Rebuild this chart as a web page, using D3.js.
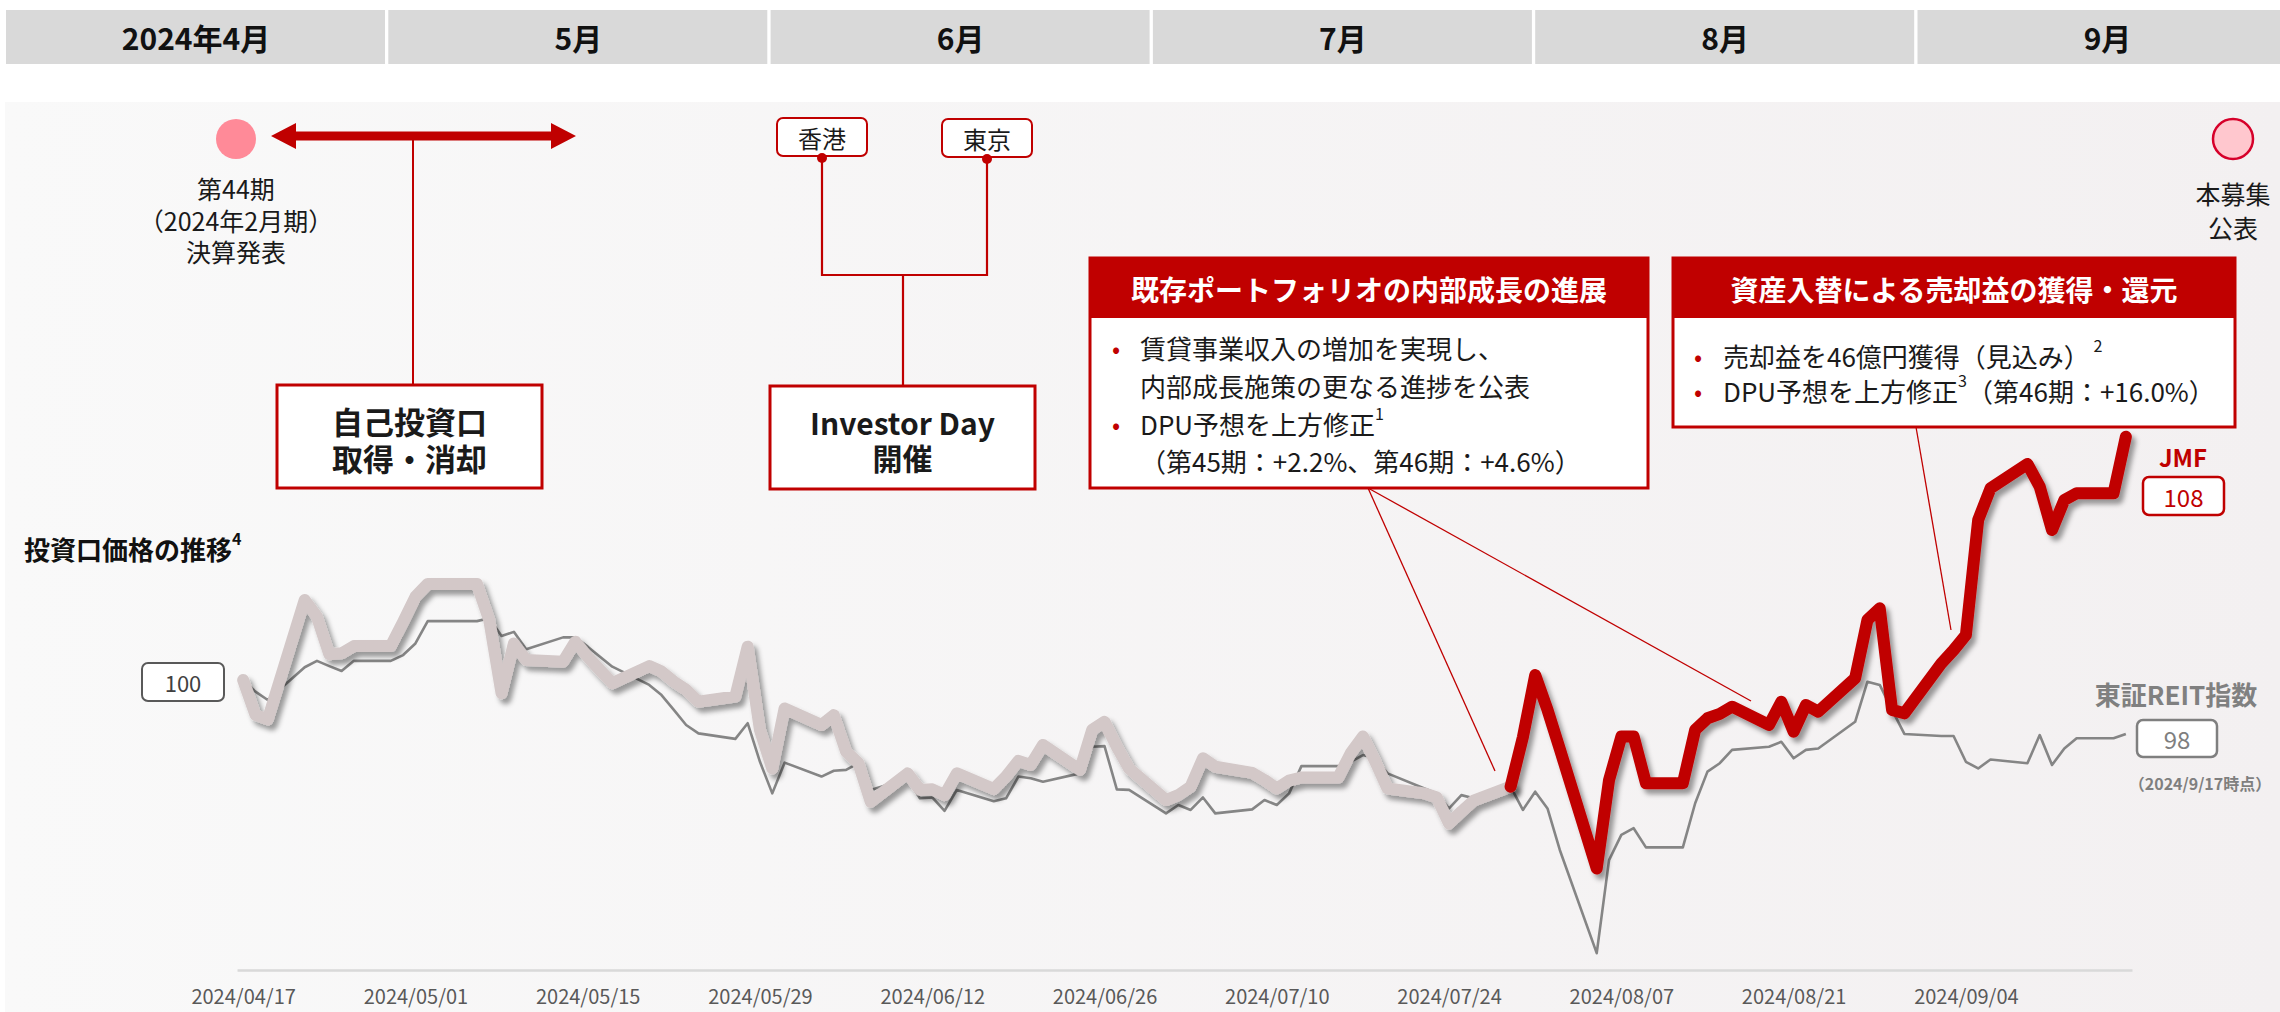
<!DOCTYPE html>
<html><head><meta charset="utf-8">
<script src="https://cdn.jsdelivr.net/npm/d3@7"></script>
<style>
html,body{margin:0;padding:0;background:#fff;}
svg{display:block;font-family:"Noto Sans CJK JP","Noto Sans",sans-serif;}
</style></head><body>
<svg id="chart" width="2280" height="1012"></svg>
<script>
// ---------------- DATA ----------------
const months = ["2024年4月","5月","6月","7月","8月","9月"];
const dates = ["2024/04/17","2024/04/18","2024/04/19","2024/04/22","2024/04/23","2024/04/24","2024/04/25","2024/04/26","2024/04/29","2024/04/30",
"2024/05/01","2024/05/02","2024/05/03","2024/05/06","2024/05/07","2024/05/08","2024/05/09","2024/05/10","2024/05/13","2024/05/14","2024/05/15","2024/05/16","2024/05/17","2024/05/20","2024/05/21","2024/05/22","2024/05/23","2024/05/24","2024/05/27","2024/05/28","2024/05/29","2024/05/30","2024/05/31",
"2024/06/03","2024/06/04","2024/06/05","2024/06/06","2024/06/07","2024/06/10","2024/06/11","2024/06/12","2024/06/13","2024/06/14","2024/06/17","2024/06/18","2024/06/19","2024/06/20","2024/06/21","2024/06/24","2024/06/25","2024/06/26","2024/06/27","2024/06/28",
"2024/07/01","2024/07/02","2024/07/03","2024/07/04","2024/07/05","2024/07/08","2024/07/09","2024/07/10","2024/07/11","2024/07/12","2024/07/15","2024/07/16","2024/07/17","2024/07/18","2024/07/19","2024/07/22","2024/07/23","2024/07/24","2024/07/25","2024/07/26","2024/07/29","2024/07/30","2024/07/31",
"2024/08/01","2024/08/02","2024/08/05","2024/08/06","2024/08/07","2024/08/08","2024/08/09","2024/08/12","2024/08/13","2024/08/14","2024/08/15","2024/08/16","2024/08/19","2024/08/20","2024/08/21","2024/08/22","2024/08/23","2024/08/26","2024/08/27","2024/08/28","2024/08/29","2024/08/30",
"2024/09/02","2024/09/03","2024/09/04","2024/09/05","2024/09/06","2024/09/09","2024/09/10","2024/09/11","2024/09/12","2024/09/13","2024/09/16","2024/09/17"];
const jmf = [100.0,98.8,98.64,102.76,102.18,100.89,100.92,101.17,101.17,102.0,
102.87,103.31,103.31,103.31,102.07,99.54,101.26,100.69,100.63,101.32,100.8,100.34,99.89,100.48,100.29,99.94,99.66,99.25,99.43,101.15,98.28,96.95,99.02,
98.45,98.79,97.53,97.13,95.8,96.78,96.21,96.23,96.03,96.78,96.24,96.67,97.21,97.07,97.76,96.9,98.28,98.56,97.7,96.95,
95.86,96.03,96.32,97.3,97.01,96.8,96.55,96.26,96.53,96.64,96.64,97.47,98.05,97.2,96.26,96.09,95.95,95.05,95.46,95.84,96.32,98.03,100.17,
98.97,97.62,93.5,96.55,98.05,98.05,96.44,96.44,98.28,98.68,98.83,99.08,98.45,99.25,98.22,99.14,98.91,100.06,102.07,102.47,98.97,98.85,
100.57,101.03,101.55,105.52,106.61,107.45,106.67,105.17,106.21,106.44,106.44,108.39];
const reit = [100.0,99.6,99.31,100.44,100.66,100.48,100.31,100.66,100.66,100.86,
101.26,102.03,102.03,102.03,102.13,101.52,101.66,101.06,101.47,101.47,101.15,100.8,100.46,99.83,99.48,98.97,98.45,98.16,97.97,98.51,97.18,96.09,97.15,
96.67,96.87,96.9,97.13,96.21,96.6,95.92,95.95,95.49,96.21,95.82,95.92,96.67,96.61,96.49,96.78,97.7,97.72,96.23,96.21,
95.4,95.69,95.52,95.95,95.4,95.54,95.86,95.69,96.09,97.03,97.03,97.18,97.41,97.3,96.78,96.26,96.09,95.57,96.03,95.92,96.32,95.52,96.15,
95.57,94.14,90.58,93.79,94.66,94.89,94.23,94.23,95.75,96.84,97.13,97.59,97.7,97.87,97.3,97.59,97.64,98.56,99.94,99.83,98.97,98.14,
98.07,98.07,97.18,96.95,97.26,97.13,98.1,97.07,97.64,97.99,97.99,98.14];
const tickLabels = ["2024/04/17","2024/05/01","2024/05/15","2024/05/29","2024/06/12","2024/06/26","2024/07/10","2024/07/24","2024/08/07","2024/08/21","2024/09/04"];
const redFrom = "2024/07/29";
const axisStart = "2024/04/17", axisEnd = "2024/09/17";
const yDomain = [90, 110];

// ---------------- SETUP ----------------
const svg = d3.select("#chart");
const parse = d3.utcParse("%Y/%m/%d");
const fmt = d3.utcFormat("%Y/%m/%d");
const RED = "#c00000";
const halfDay = 12 * 3600 * 1000;

const defs = svg.append("defs");
const grad = defs.append("linearGradient").attr("id","bg").attr("x1","0").attr("x2","1").attr("y1","0").attr("y2","0");
grad.append("stop").attr("offset","0%").attr("stop-color","#f9f9f9");
grad.append("stop").attr("offset","100%").attr("stop-color","#f3f0f1");
const f = defs.append("filter").attr("id","shadow").attr("x","-10%").attr("y","-10%").attr("width","130%").attr("height","130%");
f.append("feDropShadow").attr("dx",4).attr("dy",5).attr("stdDeviation",2.5).attr("flood-color","#000").attr("flood-opacity",0.38);

// background panel
svg.append("rect").attr("x",5).attr("y",102).attr("width",2275).attr("height",910).attr("fill","url(#bg)");

// month header
const hdr = svg.append("g");
months.forEach((m,i)=>{
  const x0 = 6 + i*382.3;
  hdr.append("rect").attr("x",x0).attr("y",10).attr("width",379).attr("height",54).attr("fill","#d9d9d9");
  hdr.append("text").attr("x",x0+190).attr("y",37).attr("text-anchor","middle").attr("dominant-baseline","central")
    .attr("font-size",30).attr("font-weight","bold").attr("fill","#111").text(m);
});

// scales
const x = d3.scaleUtc().domain([new Date(+parse(axisStart)-halfDay), new Date(+parse(axisEnd)+halfDay)]).range([237, 2132]);
const y = d3.scaleLinear().domain(yDomain).range([970, 390]);

const rows = dates.map((d,i)=>({date:parse(d), j:jmf[i], r:reit[i]}));
const split = parse(redFrom);

// x axis
const xAxis = d3.axisBottom(x).tickValues(tickLabels.map(parse)).tickFormat(fmt).tickSizeInner(0).tickSizeOuter(0).tickPadding(20);
const ax = svg.append("g").attr("transform","translate(0,970)").call(xAxis);
ax.select(".domain").attr("stroke","#d9d9d9").attr("stroke-width",2.5);
ax.selectAll("text").attr("font-size",20).attr("fill","#595959").attr("font-family","'Noto Sans CJK JP',sans-serif");

// lines
const lineR = d3.line().x(d=>x(d.date)).y(d=>y(d.r));
const lineJ = d3.line().x(d=>x(d.date)).y(d=>y(d.j));
svg.append("path").datum(rows).attr("d",lineR).attr("fill","none").attr("stroke","#858585").attr("stroke-width",2.6).attr("stroke-linejoin","round");
svg.append("path").datum(rows.filter(d=>d.date<=split)).attr("d",lineJ).attr("fill","none")
  .attr("stroke","#d3c8c8").attr("stroke-width",12).attr("stroke-linejoin","round").attr("stroke-linecap","round").attr("filter","url(#shadow)");
svg.append("path").datum(rows.filter(d=>d.date>=split)).attr("d",lineJ).attr("fill","none")
  .attr("stroke",RED).attr("stroke-width",12).attr("stroke-linejoin","round").attr("stroke-linecap","round").attr("filter","url(#shadow)");

// ---------------- ANNOTATIONS ----------------
const A = svg.append("g");
function txt(g, x0, y0, s, size, opts={}){
  return g.append("text").attr("x",x0).attr("y",y0).attr("font-size",size)
    .attr("text-anchor",opts.anchor||"middle").attr("dominant-baseline","central")
    .attr("font-weight",opts.bold?"bold":"normal").attr("fill",opts.fill||"#1a1a1a").text(s);
}
// several lines in one text element; each line is an array of segments {t, sup}
function block(g, x0, ys, lines, size, opts={}){
  const t = g.append("text").attr("font-size",size).attr("dominant-baseline","central")
    .attr("text-anchor",opts.anchor||"start").attr("font-weight",opts.bold?"bold":"normal").attr("fill",opts.fill||"#1a1a1a");
  lines.forEach((segs,i)=>{
    const ln = t.append("tspan").attr("x",x0).attr("y",ys[i]);
    let shifted = false;
    (typeof segs === "string" ? [{t:segs}] : segs).forEach(s=>{
      if (s.sup){ ln.append("tspan").attr("font-size",size*0.62).attr("dy",-size*0.38).text(s.t); shifted = true; }
      else { const ts = ln.append("tspan").text(s.t); if (shifted){ ts.attr("dy",size*0.38); shifted=false; } }
    });
  });
  return t;
}

// left event: 第44期 決算発表
A.append("circle").attr("cx",236).attr("cy",139).attr("r",20).attr("fill","#ff8a98");
block(A,236,[188,220,251],["第44期","（2024年2月期）","決算発表"],25,{anchor:"middle"});

// double arrow
A.append("path").attr("d","M271,136 L296,123 L296,131.5 L551,131.5 L551,123 L576,136 L551,149 L551,140.5 L296,140.5 L296,149 Z").attr("fill",RED);
A.append("line").attr("x1",413).attr("x2",413).attr("y1",140).attr("y2",385).attr("stroke",RED).attr("stroke-width",2);
A.append("rect").attr("x",277).attr("y",385).attr("width",265).attr("height",103).attr("fill","#fff").attr("stroke",RED).attr("stroke-width",3);
block(A,409.5,[420,457],["自己投資口","取得・消却"],31,{anchor:"middle",bold:true});

// Investor Day
[[777,118,"香港"],[942,119,"東京"]].forEach(([bx,by,s])=>{
  A.append("rect").attr("x",bx).attr("y",by).attr("width",90).attr("height",38).attr("rx",6).attr("fill","#fff").attr("stroke",RED).attr("stroke-width",2);
  txt(A,bx+45,by+19,s,24);
  A.append("circle").attr("cx",bx+45).attr("cy",by+40).attr("r",5).attr("fill",RED);
});
A.append("path").attr("d","M822,158 V275 H987 V159 M903,275 V386").attr("fill","none").attr("stroke",RED).attr("stroke-width",2.2);
A.append("rect").attr("x",770).attr("y",386).attr("width",265).attr("height",103).attr("fill","#fff").attr("stroke",RED).attr("stroke-width",3);
block(A,902.5,[422,457],["Investor Day","開催"],30,{anchor:"middle",bold:true});

// Callout A
A.append("line").attr("x1",1368).attr("y1",488).attr("x2",1495).attr("y2",771).attr("stroke",RED).attr("stroke-width",1.3);
A.append("line").attr("x1",1368).attr("y1",488).attr("x2",1751).attr("y2",701).attr("stroke",RED).attr("stroke-width",1.3);
A.append("rect").attr("x",1090).attr("y",258).attr("width",558).attr("height",230).attr("fill","#fff").attr("stroke",RED).attr("stroke-width",3);
A.append("rect").attr("x",1090).attr("y",258).attr("width",558).attr("height",60).attr("fill",RED);
txt(A,1369,289,"既存ポートフォリオの内部成長の進展",28,{bold:true,fill:"#fff"});
block(A,1116,[347,423],["•","•"],24,{anchor:"middle",fill:RED});
block(A,1140,[347,385,423,460],[
  "賃貸事業収入の増加を実現し、",
  "内部成長施策の更なる進捗を公表",
  [{t:"DPU予想を上方修正"},{t:"1",sup:true}],
  "（第45期：+2.2%、第46期：+4.6%）"],26);

// Callout B
A.append("line").attr("x1",1916).attr("y1",427).attr("x2",1951).attr("y2",630).attr("stroke",RED).attr("stroke-width",1.3);
A.append("rect").attr("x",1673).attr("y",258).attr("width",562).attr("height",169).attr("fill","#fff").attr("stroke",RED).attr("stroke-width",3);
A.append("rect").attr("x",1673).attr("y",258).attr("width",562).attr("height",60).attr("fill",RED);
txt(A,1954,289,"資産入替による売却益の獲得・還元",28,{bold:true,fill:"#fff"});
block(A,1698,[355,390],["•","•"],24,{anchor:"middle",fill:RED});
block(A,1723,[355,390],[
  [{t:"売却益を46億円獲得（見込み）"},{t:" 2",sup:true}],
  [{t:"DPU予想を上方修正"},{t:"3",sup:true},{t:"（第46期：+16.0%）"}]],26);

// right event
A.append("circle").attr("cx",2233).attr("cy",139).attr("r",20).attr("fill","#ffc7ce").attr("stroke","#d6002a").attr("stroke-width",2.5);
block(A,2233,[193,227],["本募集","公表"],25,{anchor:"middle"});

// chart title
block(A,24,[548],[[{t:"投資口価格の推移"},{t:"4",sup:true}]],26,{bold:true,fill:"#111"});

// base value label
const base = rows[0];
A.append("rect").attr("x",142).attr("y",y(base.j)-17).attr("width",82).attr("height",38).attr("rx",6).attr("fill","#fff").attr("stroke","#595959").attr("stroke-width",2);
txt(A,183,y(base.j)+2,d3.format(".0f")(base.j),22,{fill:"#404040"});

// end labels
const last = rows[rows.length-1];
txt(A,2183,456,"JMF",24,{bold:true,fill:RED});
A.append("rect").attr("x",2143).attr("y",477).attr("width",81).attr("height",38).attr("rx",6).attr("fill","#fff").attr("stroke",RED).attr("stroke-width",2.5);
txt(A,2183.5,496,d3.format(".0f")(last.j),24,{fill:RED});
txt(A,2176,693,"東証REIT指数",26,{bold:true,fill:"#808080"});
A.append("rect").attr("x",2137).attr("y",720).attr("width",80).attr("height",37).attr("rx",6).attr("fill","#fff").attr("stroke","#7f7f7f").attr("stroke-width",2.5);
txt(A,2177,738.5,d3.format(".0f")(last.r),24,{fill:"#7f7f7f"});
txt(A,2200,783,"（2024/9/17時点）",16,{bold:true,fill:"#7f7f7f"});
</script>
</body></html>
